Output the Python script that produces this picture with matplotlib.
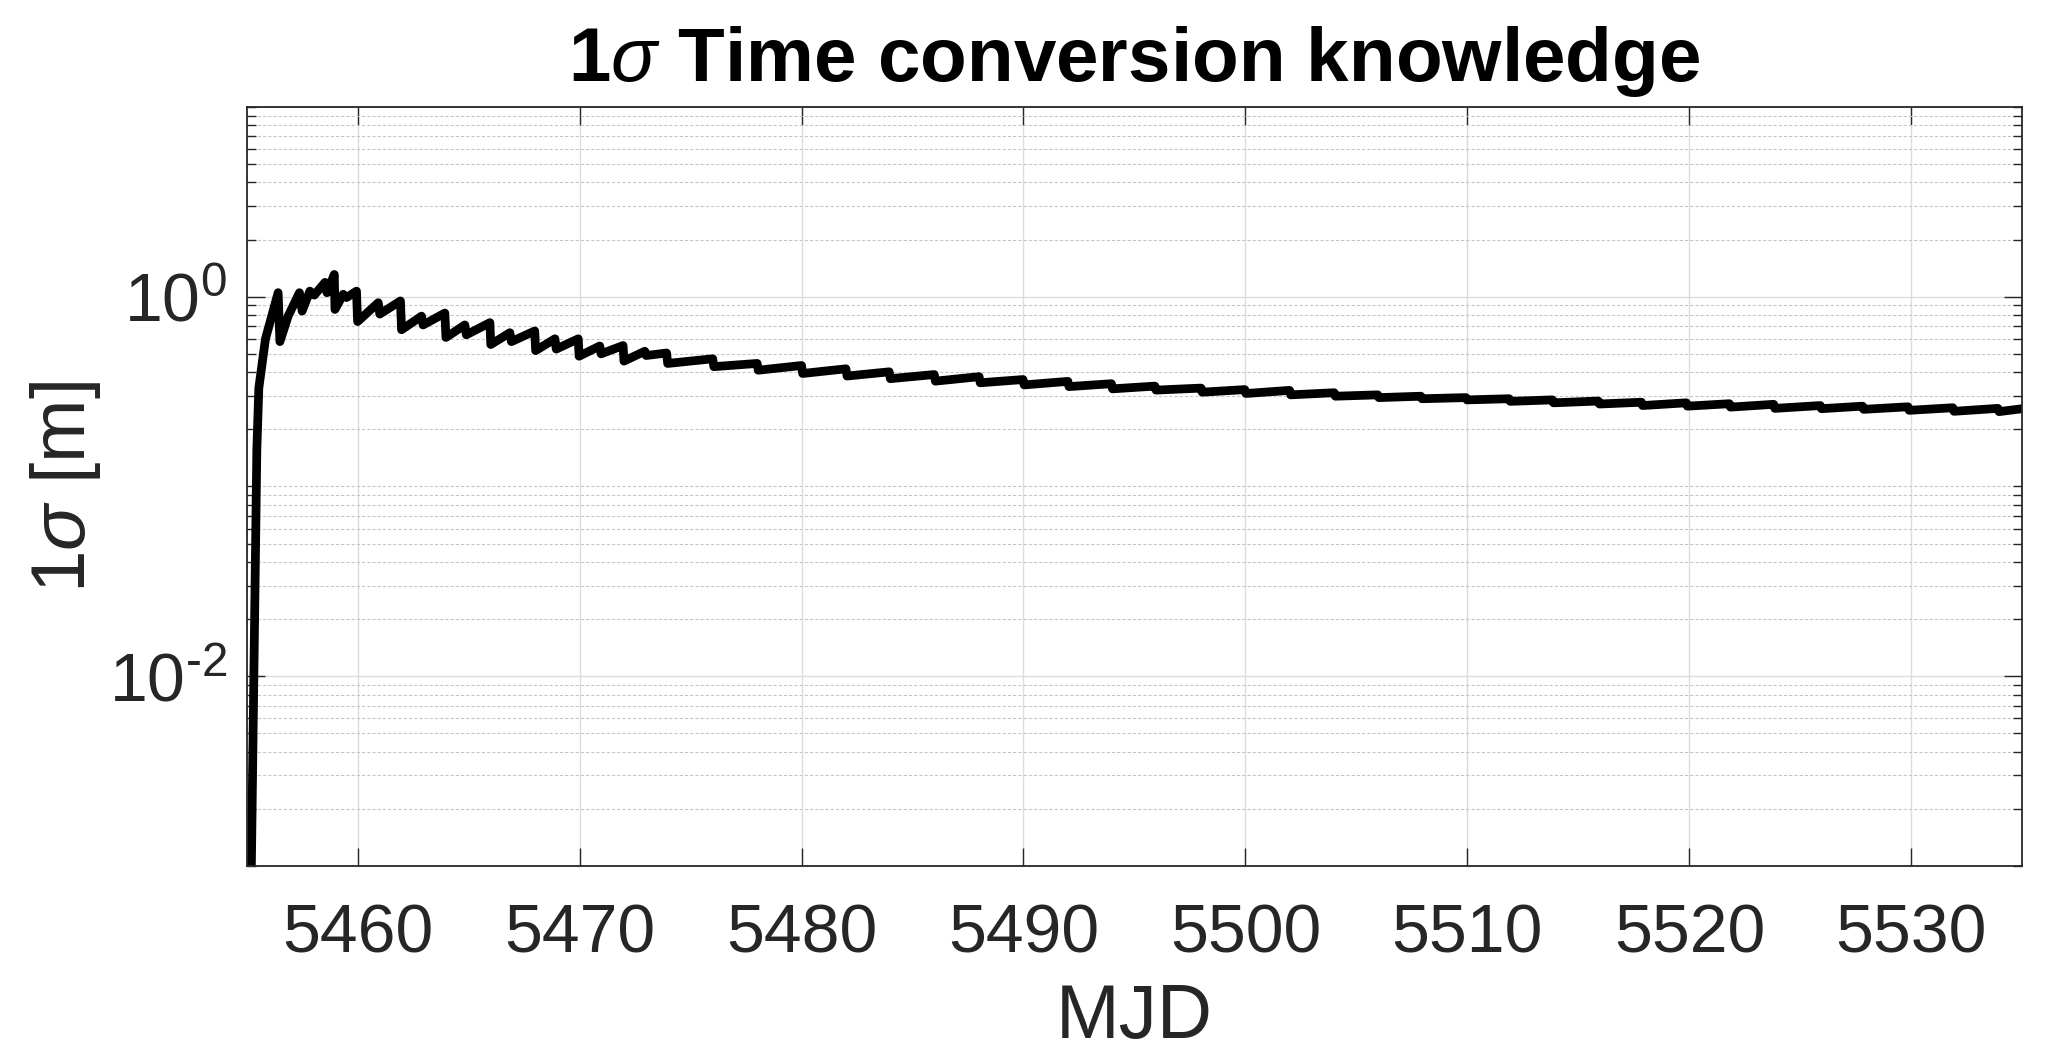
import matplotlib
matplotlib.use("Agg")
import matplotlib.pyplot as plt
from matplotlib.ticker import FixedLocator, FixedFormatter, LogLocator, NullFormatter
import numpy as np

# 1-sigma time conversion knowledge
mjd = [5455.18, 5455.46, 5455.55, 5455.85, 5456.42, 5456.50, 5456.87, 5457.38,
       5457.50, 5457.85, 5458.05, 5458.53, 5458.62, 5458.95, 5458.98, 5459.35,
       5459.50, 5459.95, 5460.00, 5460.93, 5461.00, 5461.93, 5461.98, 5462.88,
       5462.95, 5463.93, 5463.98, 5464.83, 5464.90, 5465.96, 5466.00, 5466.86,
       5466.93, 5467.98, 5468.02, 5468.89, 5468.95, 5469.94, 5469.98, 5470.91,
       5470.97, 5471.96, 5472.00, 5472.94, 5473.00, 5473.92, 5473.97,
       5476.00, 5476.05, 5478.00, 5478.05, 5480.00, 5480.05, 5482.00, 5482.05,
       5483.95, 5484.00, 5485.98, 5486.03, 5488.00, 5488.05, 5489.98, 5490.03,
       5492.00, 5492.05, 5493.96, 5494.01, 5495.92, 5495.97, 5498.00, 5498.05,
       5499.97, 5500.02, 5501.99, 5502.04, 5504.00, 5504.05, 5505.96, 5506.01,
       5507.90, 5507.95, 5509.93, 5509.98, 5511.88, 5511.93, 5513.83, 5513.88,
       5515.90, 5515.95, 5517.84, 5517.89, 5519.86, 5519.91, 5521.80, 5521.85,
       5523.80, 5523.85, 5525.90, 5525.95, 5527.80, 5527.85, 5529.85, 5529.90,
       5531.87, 5531.92, 5533.90, 5533.95, 5535.00]
sigma_m = [5e-4, 0.156, 0.33, 0.60, 1.05, 0.58, 0.79, 1.05,
           0.84, 1.07, 1.02, 1.19, 1.05, 1.31, 0.857, 1.03,
           0.99, 1.07, 0.74, 0.93, 0.81, 0.95, 0.67, 0.79,
           0.71, 0.82, 0.61, 0.71, 0.63, 0.73, 0.56, 0.646,
           0.58, 0.66, 0.52, 0.60, 0.53, 0.60, 0.486, 0.55,
           0.50, 0.553, 0.458, 0.516, 0.49, 0.505, 0.445,
           0.471, 0.428, 0.445, 0.410, 0.434, 0.394, 0.417, 0.382,
           0.402, 0.370, 0.389, 0.359, 0.379, 0.352, 0.366, 0.343,
           0.358, 0.336, 0.348, 0.327, 0.338, 0.322, 0.330, 0.314,
           0.324, 0.309, 0.321, 0.304, 0.312, 0.299, 0.304, 0.294,
           0.299, 0.290, 0.294, 0.286, 0.290, 0.281, 0.286, 0.276,
           0.282, 0.272, 0.278, 0.267, 0.276, 0.265, 0.273, 0.262,
           0.271, 0.258, 0.267, 0.257, 0.265, 0.255, 0.263, 0.252,
           0.260, 0.249, 0.258, 0.248, 0.257]

x_ticks = [5460, 5470, 5480, 5490, 5500, 5510, 5520, 5530]
y_ticks = [1e-2, 1e0]
# hyphen (not minus) in the exponent, as in the original
y_tick_labels = [r'$\mathdefault{10^{\text{-}2}}$', r'$\mathdefault{10^{0}}$']

plt.rcParams['font.family'] = ['Liberation Sans', 'DejaVu Sans']
plt.rcParams['mathtext.fontset'] = 'custom'
plt.rcParams['mathtext.rm'] = 'Liberation Sans'
plt.rcParams['mathtext.it'] = 'Liberation Sans:italic'
plt.rcParams['mathtext.bf'] = 'Liberation Sans:bold'
plt.rcParams['axes.unicode_minus'] = False

axis_col = '#262626'

fig = plt.figure(figsize=(20.5, 10.6), dpi=100)
ax = fig.add_axes([0.1203, 0.1830, 0.8662, 0.7161])

ax.plot(mjd, sigma_m, color='black', linewidth=6.3, solid_joinstyle='round')

ax.set_yscale('log')
ax.set_xlim(5455, 5535)
ax.set_ylim(1e-3, 1e1)

ax.xaxis.set_major_locator(FixedLocator(x_ticks))
ax.yaxis.set_major_locator(FixedLocator(y_ticks))
ax.yaxis.set_major_formatter(FixedFormatter(y_tick_labels))
ax.yaxis.set_minor_locator(LogLocator(base=10, subs=np.arange(1, 10), numticks=100))
ax.yaxis.set_minor_formatter(NullFormatter())

# MATLAB-like grid: solid majors, dotted minors
ax.grid(True, which='major', color='#dcdcdc', linestyle='-', linewidth=1.0)
ax.grid(True, which='minor', axis='y', color='#c4c4c4', linestyle=(0, (3, 2)), linewidth=0.75)
ax.set_axisbelow(True)

ax.tick_params(which='both', direction='in', top=True, right=True, colors=axis_col)
ax.tick_params(which='major', length=13, width=1.0)
ax.tick_params(which='minor', length=6.5, width=1.0)
ax.tick_params(axis='x', which='major', labelsize=49, pad=26)
ax.tick_params(axis='y', which='major', labelsize=49, pad=14)

for sp in ax.spines.values():
    sp.set_color(axis_col)
    sp.set_linewidth(1.3)

ax.set_title(r'1$\sigma$ Time conversion knowledge', fontsize=55, fontweight='bold', pad=19)
ax.set_xlabel('MJD', fontsize=55, color=axis_col, labelpad=12)
ax.set_ylabel(r'1$\sigma$ [m]', fontsize=55, color=axis_col, labelpad=4)

fig.savefig('out.png', dpi=100)
